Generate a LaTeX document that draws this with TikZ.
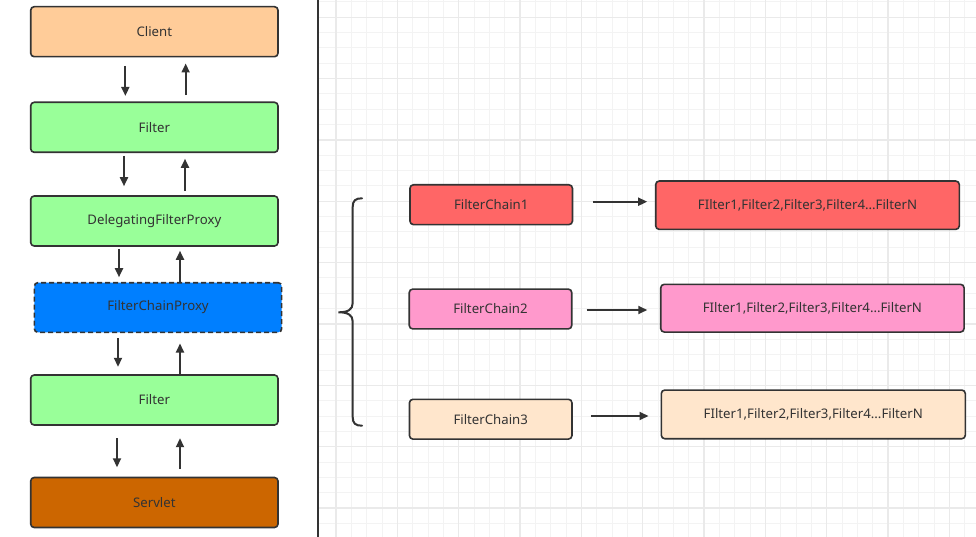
\documentclass[tikz,border=0pt]{standalone}
\usepackage{fontspec}
\setmainfont{Noto Sans}
\usetikzlibrary{arrows.meta,calc}
\definecolor{ln}{HTML}{333333}
\definecolor{cclient}{HTML}{FFCC99}
\definecolor{cfilter}{HTML}{99FF99}
\definecolor{cproxy}{HTML}{007FFF}
\definecolor{cservlet}{HTML}{CC6600}
\definecolor{cfc1}{HTML}{FF6666}
\definecolor{cfc2}{HTML}{FF99CC}
\definecolor{cfc3}{HTML}{FFE6CC}
\definecolor{gminor}{HTML}{F3F3F3}
\definecolor{gmajor}{HTML}{EAEAEA}
\begin{document}
\begin{tikzpicture}[x=1pt,y=-1pt,
  box/.style={draw=ln, line width=1.6pt, rounded corners=3.5pt, text=ln,
    font=\fontsize{13.2}{15}\selectfont, inner sep=0pt},
  lbox/.style={box, minimum width=247.3pt, minimum height=50pt},
  cbox/.style={box, minimum width=162.5pt, minimum height=39.8pt},
  fbox/.style={box, minimum width=303.6pt, minimum height=48.3pt},
  arr/.style={draw=ln, line width=1.8pt, -{Triangle[length=9pt,width=8pt]}},
  gmin/.style={draw=gminor, line width=1pt},
  gmaj/.style={draw=gmajor, line width=1.4pt}]
\useasboundingbox (0,0) rectangle (976,537);
\fill[white] (0,0) rectangle (976,537);
% grid
\begin{scope}
\clip (319,0) rectangle (976,537);
\foreach \k in {0,...,42} {
  \pgfmathsetmacro\xx{336+15.3333*\k}
  \draw[gmin] (\xx,0) -- (\xx,537);
}
\foreach \k in {0,...,35} {
  \pgfmathsetmacro\yy{2+15.3333*\k}
  \draw[gmin] (319,\yy) -- (976,\yy);
}
\foreach \k in {0,...,10} {
  \pgfmathsetmacro\xx{336+61.3333*\k}
  \draw[gmaj] (\xx,0) -- (\xx,537);
}
\foreach \k in {0,...,8} {
  \pgfmathsetmacro\yy{17.333+61.3333*\k}
  \draw[gmaj] (319,\yy) -- (976,\yy);
}
\end{scope}
\draw[ln, line width=2.2pt] (318,0) -- (318,537);

% left column
\node[lbox, fill=cclient] (client) at (154.35,31.7) {Client};
\node[lbox, fill=cfilter] (filter1) at (154.35,127.3) {Filter};
\node[lbox, fill=cfilter] (dfp) at (154.35,221) {DelegatingFilterProxy};
\node[lbox, fill=cproxy, dash pattern=on 5pt off 3pt, minimum height=49.6pt] (fcp) at (158,307.5) {FilterChainProxy};
\node[lbox, fill=cfilter] (filter2) at (154.35,400) {Filter};
\node[lbox, fill=cservlet] (servlet) at (154.35,502.5) {Servlet};

\draw[arr] ($(client.south)+(-29,8.3)$) -- ($(filter1.north)+(-29,-5.6)$);
\draw[arr] ($(filter1.north)+(31.3,-6.3)$) -- ($(client.south)+(31.3,6)$);
\draw[arr] ($(filter1.south)+(-30.35,2.7)$) -- ($(dfp.north)+(-30.35,-9)$);
\draw[arr] ($(dfp.north)+(30.65,-4)$) -- ($(filter1.south)+(30.65,5.7)$);
\draw[arr] ($(dfp.south)+(-35.35,2)$) -- ($(fcp.north)+(-39,-4.7)$);
\draw[arr] ($(fcp.north)+(22,0)$) -- ($(dfp.south)+(25.65,4)$);
\draw[arr] ($(fcp.south)+(-40,5)$) -- ($(filter2.north)+(-36.35,-7.4)$);
\draw[arr] ($(filter2.north)+(25.65,0)$) -- ($(fcp.south)+(22,10.4)$);
\draw[arr] ($(filter2.south)+(-37.35,12.4)$) -- ($(servlet.north)+(-37.35,-9.4)$);
\draw[arr] ($(servlet.north)+(25.65,-7.7)$) -- ($(filter2.south)+(25.65,12.4)$);

% brace
\draw[ln, line width=2pt, line cap=round]
  (362,198.3) .. controls (355.5,198.3) and (352.7,200.5) .. (352.7,207)
  -- (352.7,303) .. controls (352.7,309.5) and (348,312.3) .. (338.5,312.3)
  .. controls (348,312.3) and (352.7,315) .. (352.7,321.5)
  -- (352.7,417) .. controls (352.7,423.5) and (355.5,425.7) .. (362,425.7);

% right side
\node[cbox, fill=cfc1] (fc1) at (491.2,204.7) {FilterChain1};
\node[cbox, fill=cfc2] (fc2) at (490.5,309) {FilterChain2};
\node[cbox, fill=cfc3] (fc3) at (490.7,419.2) {FilterChain3};
\node[fbox, fill=cfc1] (ff1) at (807.5,205.2) {FIlter1,Filter2,Filter3,Filter4...FilterN};
\node[fbox, fill=cfc2, minimum width=303.3pt, minimum height=47.7pt] (ff2) at (812.4,308.2) {FIlter1,Filter2,Filter3,Filter4...FilterN};
\node[fbox, fill=cfc3, minimum width=304pt, minimum height=48.7pt] (ff3) at (813.3,414.4) {FIlter1,Filter2,Filter3,Filter4...FilterN};

\draw[arr] ($(fc1.east)+(19.7,-3)$) -- ($(ff1.west)+(-7.7,-3.5)$);
\draw[arr] ($(fc2.east)+(14,1)$) -- ($(ff2.west)+(-12.7,1.8)$);
\draw[arr] ($(fc3.east)+(18,-3.2)$) -- ($(ff3.west)+(-12,1.6)$);
\end{tikzpicture}
\end{document}
